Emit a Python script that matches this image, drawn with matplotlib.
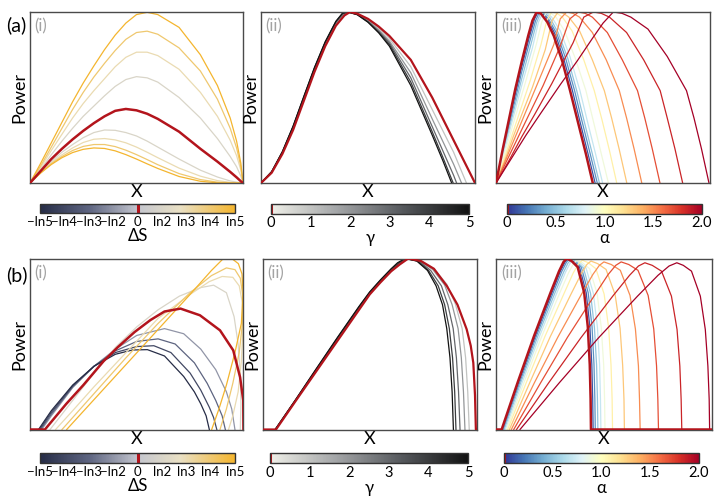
import matplotlib
matplotlib.use('Agg')
import matplotlib.pyplot as plt
from matplotlib.colors import LinearSegmentedColormap, Normalize
from matplotlib.cm import ScalarMappable

plt.rcParams['font.family'] = ['Lato', 'DejaVu Sans']

RED = '#b3141c'
FRAME = '#4a4a4a'

# ---------------- (a)(i): power vs X for several entropy changes ----------------
a1_x = [0, 0.05, 0.1, 0.15, 0.2, 0.25, 0.3, 0.35, 0.4, 0.45, 0.5, 0.55, 0.6, 0.7, 0.8, 0.88, 0.94, 0.97, 0.99, 1.0]
a1_red = [0, 0.07, 0.14, 0.2, 0.255, 0.305, 0.35, 0.39, 0.422, 0.433, 0.425, 0.405, 0.375, 0.30, 0.20, 0.125, 0.065, 0.033, 0.01, 0]
a1_ds = [1, 2, 3, 4, -1, -2, -3, -4]          # index of ln2..ln5 (sign = sign of dS)
a1_y = [
    [0, 0.08, 0.165, 0.245, 0.32, 0.39, 0.45, 0.51, 0.565, 0.605, 0.622, 0.615, 0.59, 0.50, 0.38, 0.26, 0.155, 0.095, 0.04, 0],
    [0, 0.09, 0.19, 0.285, 0.38, 0.465, 0.54, 0.61, 0.68, 0.735, 0.765, 0.765, 0.745, 0.665, 0.53, 0.39, 0.25, 0.16, 0.075, 0],
    [0, 0.10, 0.21, 0.32, 0.43, 0.53, 0.62, 0.70, 0.775, 0.84, 0.88, 0.888, 0.87, 0.79, 0.655, 0.49, 0.32, 0.205, 0.095, 0],
    [0, 0.115, 0.235, 0.355, 0.475, 0.585, 0.685, 0.78, 0.865, 0.935, 0.985, 0.998, 0.985, 0.91, 0.75, 0.57, 0.38, 0.245, 0.115, 0],
    [0, 0.065, 0.125, 0.18, 0.225, 0.265, 0.295, 0.31, 0.308, 0.295, 0.275, 0.245, 0.21, 0.14, 0.075, 0.035, 0.012, 0.005, 0.002, 0],
    [0, 0.062, 0.118, 0.165, 0.205, 0.237, 0.256, 0.26, 0.252, 0.235, 0.21, 0.18, 0.148, 0.087, 0.04, 0.014, 0.004, 0.002, 0.002, 0],
    [0, 0.06, 0.113, 0.155, 0.19, 0.214, 0.225, 0.225, 0.213, 0.192, 0.166, 0.137, 0.107, 0.055, 0.02, 0.005, 0.001, 0, 0.001, 0],
    [0, 0.058, 0.108, 0.148, 0.178, 0.197, 0.205, 0.202, 0.188, 0.166, 0.14, 0.112, 0.085, 0.038, 0.01, 0.001, 0, 0, 0, 0],
]

# ---------------- (a)(ii): gamma dependence ----------------
a2_red_x = [0, 0.05, 0.1, 0.15, 0.2, 0.25, 0.3, 0.35, 0.39, 0.416, 0.45, 0.5, 0.55, 0.6, 0.7, 0.8, 0.9, 1.0]
a2_red_y = [0, 0.06, 0.17, 0.31, 0.48, 0.65, 0.80, 0.92, 0.98, 1.0, 0.99, 0.96, 0.915, 0.86, 0.72, 0.50, 0.25, 0]
a2_gamma = [1, 2, 3, 4, 5]
a2_x = [
    [0, 0.05, 0.1, 0.15, 0.2, 0.25, 0.3, 0.35, 0.385, 0.41, 0.45, 0.5, 0.55, 0.6, 0.7, 0.8, 0.9, 0.96],
    [0, 0.05, 0.1, 0.15, 0.2, 0.25, 0.3, 0.35, 0.385, 0.41, 0.45, 0.5, 0.55, 0.6, 0.7, 0.8, 0.9, 0.937],
    [0, 0.05, 0.1, 0.15, 0.2, 0.25, 0.3, 0.35, 0.385, 0.41, 0.45, 0.5, 0.55, 0.6, 0.7, 0.8, 0.9, 0.914],
    [0, 0.05, 0.1, 0.15, 0.2, 0.25, 0.3, 0.35, 0.38, 0.405, 0.45, 0.5, 0.55, 0.6, 0.7, 0.8, 0.85, 0.898],
    [0, 0.05, 0.1, 0.15, 0.2, 0.25, 0.3, 0.35, 0.38, 0.405, 0.45, 0.5, 0.55, 0.6, 0.7, 0.8, 0.85, 0.891],
]
a2_y = [
    [0, 0.062, 0.175, 0.32, 0.49, 0.66, 0.81, 0.93, 0.985, 1.0, 0.99, 0.955, 0.905, 0.845, 0.68, 0.43, 0.18, 0],
    [0, 0.064, 0.178, 0.325, 0.495, 0.665, 0.815, 0.935, 0.987, 1.0, 0.988, 0.95, 0.895, 0.83, 0.645, 0.375, 0.11, 0],
    [0, 0.065, 0.18, 0.328, 0.5, 0.67, 0.82, 0.94, 0.99, 1.0, 0.986, 0.945, 0.888, 0.82, 0.615, 0.33, 0.045, 0],
    [0, 0.066, 0.182, 0.33, 0.503, 0.673, 0.823, 0.943, 0.99, 1.0, 0.985, 0.942, 0.882, 0.81, 0.59, 0.30, 0.15, 0],
    [0, 0.067, 0.184, 0.333, 0.506, 0.676, 0.826, 0.946, 0.992, 1.0, 0.984, 0.94, 0.878, 0.80, 0.57, 0.28, 0.13, 0],
]

# ---------------- (a)(iii): alpha dependence ----------------
a3_red_x = [0, 0.03, 0.06, 0.09, 0.12, 0.15, 0.17, 0.19, 0.21, 0.24, 0.27, 0.31, 0.346, 0.38, 0.42, 0.452]
a3_red_y = [0, 0.19, 0.37, 0.55, 0.71, 0.86, 0.95, 1.0, 0.99, 0.94, 0.86, 0.71, 0.54, 0.37, 0.17, 0]
a3_alpha = [0.1, 0.3, 0.5, 0.7, 0.9, 1.1, 1.3, 1.5, 1.7, 1.85, 2.0]
a3_x = [
    [0, 0.03, 0.06, 0.09, 0.12, 0.155, 0.18, 0.197, 0.218, 0.24, 0.28, 0.32, 0.357, 0.39, 0.43, 0.463],
    [0, 0.03, 0.06, 0.09, 0.12, 0.16, 0.185, 0.203, 0.224, 0.245, 0.285, 0.325, 0.367, 0.40, 0.44, 0.473],
    [0, 0.03, 0.06, 0.09, 0.12, 0.165, 0.19, 0.21, 0.23, 0.25, 0.29, 0.335, 0.377, 0.41, 0.45, 0.483],
    [0, 0.03, 0.06, 0.09, 0.12, 0.17, 0.198, 0.22, 0.24, 0.26, 0.30, 0.345, 0.392, 0.425, 0.465, 0.498],
    [0, 0.03, 0.06, 0.1, 0.14, 0.19, 0.213, 0.235, 0.257, 0.28, 0.32, 0.37, 0.42, 0.455, 0.49, 0.525],
    [0, 0.04, 0.08, 0.12, 0.16, 0.21, 0.237, 0.26, 0.285, 0.31, 0.355, 0.41, 0.459, 0.495, 0.53, 0.564],
    [0, 0.04, 0.08, 0.12, 0.17, 0.23, 0.262, 0.29, 0.315, 0.34, 0.39, 0.45, 0.506, 0.54, 0.575, 0.611],
    [0, 0.05, 0.1, 0.15, 0.2, 0.27, 0.30, 0.33, 0.36, 0.39, 0.45, 0.515, 0.576, 0.61, 0.645, 0.681],
    [0, 0.05, 0.1, 0.15, 0.22, 0.3, 0.345, 0.385, 0.417, 0.45, 0.52, 0.59, 0.661, 0.695, 0.73, 0.766],
    [0, 0.06, 0.12, 0.18, 0.26, 0.36, 0.41, 0.455, 0.492, 0.53, 0.61, 0.69, 0.767, 0.80, 0.836, 0.872],
    [0, 0.07, 0.14, 0.21, 0.3, 0.38, 0.45, 0.5, 0.548, 0.589, 0.63, 0.71, 0.80, 0.89, 0.925, 0.96, 0.995],
]
a3_y = [
    [0, 0.18, 0.35, 0.52, 0.68, 0.85, 0.96, 1.0, 0.99, 0.96, 0.86, 0.71, 0.54, 0.37, 0.17, 0],
    [0, 0.17, 0.33, 0.49, 0.65, 0.84, 0.95, 1.0, 0.99, 0.96, 0.87, 0.73, 0.54, 0.37, 0.17, 0],
    [0, 0.16, 0.31, 0.46, 0.61, 0.82, 0.94, 1.0, 0.992, 0.97, 0.88, 0.73, 0.54, 0.37, 0.17, 0],
    [0, 0.15, 0.29, 0.43, 0.57, 0.79, 0.94, 1.0, 0.992, 0.97, 0.89, 0.74, 0.54, 0.37, 0.17, 0],
    [0, 0.13, 0.26, 0.43, 0.60, 0.82, 0.94, 1.0, 0.992, 0.97, 0.89, 0.73, 0.54, 0.36, 0.18, 0],
    [0, 0.15, 0.30, 0.45, 0.60, 0.81, 0.95, 1.0, 0.992, 0.97, 0.89, 0.72, 0.54, 0.37, 0.19, 0],
    [0, 0.13, 0.27, 0.40, 0.56, 0.78, 0.95, 1.0, 0.992, 0.97, 0.89, 0.72, 0.54, 0.38, 0.2, 0],
    [0, 0.15, 0.30, 0.45, 0.60, 0.81, 0.96, 1.0, 0.992, 0.97, 0.88, 0.72, 0.54, 0.38, 0.2, 0],
    [0, 0.13, 0.26, 0.39, 0.57, 0.80, 0.96, 1.0, 0.992, 0.97, 0.88, 0.72, 0.54, 0.38, 0.2, 0],
    [0, 0.13, 0.27, 0.40, 0.58, 0.82, 0.97, 1.0, 0.992, 0.97, 0.88, 0.72, 0.54, 0.38, 0.2, 0],
    [0, 0.14, 0.28, 0.41, 0.575, 0.715, 0.845, 0.935, 1.0, 0.992, 0.97, 0.9, 0.74, 0.54, 0.38, 0.2, 0],
]

# ---------------- (b)(i) ----------------
b1_red_x = [0, 0.07, 0.12, 0.17, 0.25, 0.345, 0.41, 0.49, 0.564, 0.63, 0.705, 0.796, 0.89, 0.952, 0.984, 0.999, 1.0]
b1_red_y = [0, 0, 0.075, 0.15, 0.26, 0.40, 0.48, 0.57, 0.64, 0.69, 0.707, 0.668, 0.58, 0.463, 0.306, 0.17, 0]
b1_ds = [-1, -2, -3, -4, 1, 2, 3, 4]
b1_x = [
    [0.055, 0.1, 0.2, 0.3, 0.4, 0.5, 0.63, 0.72, 0.8, 0.87, 0.92, 0.945, 0.96],
    [0.05, 0.1, 0.2, 0.3, 0.4, 0.5, 0.6, 0.68, 0.77, 0.83, 0.87, 0.9, 0.915],
    [0.045, 0.1, 0.2, 0.3, 0.4, 0.5, 0.58, 0.66, 0.75, 0.8, 0.84, 0.86, 0.875],
    [0.04, 0.1, 0.2, 0.3, 0.4, 0.48, 0.55, 0.63, 0.72, 0.77, 0.80, 0.825, 0.84],
    [0.094, 0.2, 0.3, 0.4, 0.5, 0.6, 0.7, 0.8, 0.86, 0.92, 0.956, 0.975, 0.985, 0.988, 0.985],
    [0.12, 0.2, 0.3, 0.45, 0.6, 0.75, 0.84, 0.9, 0.95, 0.98, 0.995, 0.997, 0.99, 0.975, 0.95, 0.93],
    [0.15, 0.3, 0.45, 0.6, 0.75, 0.85, 0.92, 0.96, 0.985, 0.997, 0.995, 0.98, 0.95, 0.92, 0.89],
    [0.172, 0.3, 0.45, 0.6, 0.75, 0.85, 0.906, 0.95, 0.976, 0.993, 0.998, 0.99, 0.96, 0.92, 0.885, 0.851],
]
b1_y = [
    [0, 0.08, 0.245, 0.37, 0.47, 0.55, 0.59, 0.56, 0.47, 0.35, 0.22, 0.12, 0],
    [0, 0.09, 0.25, 0.37, 0.46, 0.515, 0.53, 0.5, 0.39, 0.27, 0.17, 0.08, 0],
    [0, 0.10, 0.255, 0.37, 0.45, 0.485, 0.49, 0.45, 0.33, 0.23, 0.13, 0.07, 0],
    [0, 0.11, 0.26, 0.37, 0.44, 0.465, 0.467, 0.43, 0.31, 0.22, 0.15, 0.08, 0],
    [0, 0.17, 0.33, 0.48, 0.6, 0.7, 0.78, 0.83, 0.844, 0.8, 0.66, 0.5, 0.32, 0.15, 0],
    [0, 0.11, 0.25, 0.45, 0.65, 0.79, 0.865, 0.895, 0.89, 0.84, 0.74, 0.58, 0.4, 0.22, 0.08, 0],
    [0, 0.21, 0.42, 0.62, 0.8, 0.9, 0.945, 0.935, 0.885, 0.78, 0.62, 0.45, 0.27, 0.12, 0],
    [0, 0.175, 0.38, 0.585, 0.79, 0.93, 1.0, 0.995, 0.97, 0.91, 0.80, 0.62, 0.45, 0.26, 0.12, 0],
]

# ---------------- (b)(ii) ----------------
b2_red_x = [0, 0.062, 0.15, 0.25, 0.35, 0.45, 0.5, 0.55, 0.6, 0.64, 0.68, 0.74, 0.8, 0.86, 0.91, 0.953, 0.972, 0.984, 0.992, 0.996, 1.0]
b2_red_y = [0, 0, 0.16, 0.34, 0.52, 0.70, 0.79, 0.86, 0.925, 0.965, 1.0, 0.985, 0.94, 0.84, 0.73, 0.586, 0.49, 0.39, 0.2, 0, 0]
b2_gamma = [1, 2, 3, 4, 5]
b2_x = [
    [0.061, 0.15, 0.25, 0.35, 0.45, 0.5, 0.55, 0.6, 0.64, 0.676, 0.74, 0.8, 0.86, 0.9, 0.932, 0.948, 0.958, 0.965],
    [0.06, 0.15, 0.25, 0.35, 0.45, 0.5, 0.55, 0.6, 0.64, 0.673, 0.735, 0.795, 0.85, 0.885, 0.913, 0.928, 0.938, 0.945],
    [0.059, 0.15, 0.25, 0.35, 0.45, 0.5, 0.55, 0.6, 0.635, 0.67, 0.73, 0.785, 0.835, 0.865, 0.89, 0.905, 0.915, 0.922],
    [0.058, 0.15, 0.25, 0.35, 0.45, 0.5, 0.55, 0.6, 0.635, 0.667, 0.725, 0.775, 0.82, 0.85, 0.872, 0.887, 0.897, 0.903],
    [0.058, 0.15, 0.25, 0.35, 0.45, 0.5, 0.55, 0.6, 0.63, 0.665, 0.72, 0.77, 0.81, 0.84, 0.86, 0.875, 0.885, 0.891],
]
b2_y = [
    [0, 0.162, 0.344, 0.526, 0.706, 0.792, 0.863, 0.928, 0.966, 1.0, 0.985, 0.94, 0.85, 0.735, 0.59, 0.42, 0.22, 0],
    [0, 0.163, 0.347, 0.53, 0.709, 0.795, 0.866, 0.93, 0.968, 1.0, 0.985, 0.935, 0.845, 0.73, 0.59, 0.42, 0.22, 0],
    [0, 0.165, 0.35, 0.533, 0.713, 0.798, 0.868, 0.933, 0.97, 1.0, 0.985, 0.93, 0.84, 0.73, 0.59, 0.42, 0.22, 0],
    [0, 0.167, 0.353, 0.537, 0.717, 0.802, 0.872, 0.937, 0.973, 1.0, 0.985, 0.93, 0.84, 0.73, 0.59, 0.42, 0.22, 0],
    [0, 0.168, 0.355, 0.54, 0.72, 0.805, 0.875, 0.94, 0.975, 1.0, 0.985, 0.93, 0.84, 0.73, 0.59, 0.42, 0.22, 0],
]

# ---------------- (b)(iii) ----------------
b3_red_x = [0, 0.026, 0.1015, 0.177, 0.2525, 0.2918, 0.3129, 0.328, 0.3504, 0.3784, 0.4086, 0.4254, 0.4344, 0.4383, 0.44, 1.0]
b3_red_y = [0, 0, 0.28, 0.55, 0.8, 0.925, 0.98, 1.0, 0.985, 0.95, 0.8, 0.6, 0.38, 0.18, 0, 0]
b3_alpha = [0.1, 0.3, 0.5, 0.7, 0.9, 1.1, 1.3, 1.5, 1.7, 1.85, 2.0]
b3_x = [
    [0.030, 0.106, 0.183, 0.259, 0.298, 0.320, 0.335, 0.358, 0.387, 0.418, 0.435, 0.444, 0.448, 0.450],
    [0.034, 0.111, 0.188, 0.265, 0.305, 0.327, 0.342, 0.366, 0.395, 0.427, 0.445, 0.454, 0.458, 0.460],
    [0.038, 0.116, 0.194, 0.272, 0.313, 0.334, 0.350, 0.374, 0.405, 0.438, 0.456, 0.466, 0.470, 0.472],
    [0.043, 0.122, 0.202, 0.281, 0.322, 0.344, 0.360, 0.385, 0.417, 0.451, 0.470, 0.480, 0.484, 0.486],
    [0.048, 0.130, 0.212, 0.293, 0.336, 0.359, 0.375, 0.401, 0.434, 0.469, 0.488, 0.499, 0.503, 0.505],
    [0.054, 0.141, 0.227, 0.314, 0.358, 0.383, 0.400, 0.428, 0.463, 0.501, 0.522, 0.533, 0.538, 0.540],
    [0.062, 0.157, 0.251, 0.346, 0.395, 0.421, 0.440, 0.471, 0.510, 0.552, 0.575, 0.587, 0.593, 0.595],
    [0.071, 0.178, 0.286, 0.393, 0.449, 0.479, 0.500, 0.534, 0.576, 0.621, 0.646, 0.660, 0.665, 0.668],
    [0.082, 0.207, 0.331, 0.456, 0.520, 0.555, 0.580, 0.615, 0.658, 0.705, 0.731, 0.744, 0.750, 0.753],
    [0.095, 0.244, 0.393, 0.541, 0.619, 0.660, 0.690, 0.724, 0.767, 0.813, 0.839, 0.852, 0.858, 0.861],
    [0.111, 0.293, 0.475, 0.656, 0.751, 0.802, 0.838, 0.868, 0.906, 0.947, 0.970, 0.982, 0.988, 0.990],
]
b3_y = [
    [0, 0.28, 0.55, 0.8, 0.925, 0.98, 1.0, 0.985, 0.95, 0.8, 0.6, 0.38, 0.18, 0],
    [0, 0.28, 0.55, 0.8, 0.925, 0.98, 1.0, 0.985, 0.95, 0.8, 0.6, 0.38, 0.18, 0],
    [0, 0.279, 0.547, 0.796, 0.920, 0.975, 0.995, 0.980, 0.945, 0.796, 0.597, 0.378, 0.179, 0],
    [0, 0.279, 0.547, 0.796, 0.920, 0.975, 0.995, 0.980, 0.945, 0.796, 0.597, 0.378, 0.179, 0],
    [0, 0.277, 0.545, 0.792, 0.916, 0.970, 0.99, 0.975, 0.94, 0.792, 0.594, 0.376, 0.178, 0],
    [0, 0.277, 0.545, 0.792, 0.916, 0.970, 0.99, 0.975, 0.94, 0.792, 0.594, 0.376, 0.178, 0],
    [0, 0.276, 0.542, 0.788, 0.911, 0.965, 0.985, 0.970, 0.936, 0.788, 0.591, 0.374, 0.177, 0],
    [0, 0.274, 0.539, 0.784, 0.907, 0.960, 0.98, 0.965, 0.931, 0.784, 0.588, 0.372, 0.176, 0],
    [0, 0.274, 0.539, 0.784, 0.907, 0.960, 0.98, 0.965, 0.931, 0.784, 0.588, 0.372, 0.176, 0],
    [0, 0.273, 0.536, 0.78, 0.902, 0.956, 0.975, 0.960, 0.926, 0.78, 0.585, 0.371, 0.176, 0],
    [0, 0.273, 0.536, 0.78, 0.902, 0.956, 0.975, 0.960, 0.926, 0.78, 0.585, 0.371, 0.176, 0],
]

ds_ticks = [-4, -3, -2, -1, 0, 1, 2, 3, 4]
ds_labels = ['\u2212ln5', '\u2212ln4', '\u2212ln3', '\u2212ln2', '0', 'ln2', 'ln3', 'ln4', 'ln5']
gamma_ticks = [0, 1, 2, 3, 4, 5]
alpha_ticks = [0, 0.5, 1.0, 1.5, 2.0]
alpha_labels = ['0', '0.5', '1.0', '1.5', '2.0']

# colour maps
ds_cmap = LinearSegmentedColormap.from_list(
    'ds', [(0, '#262c46'), (0.25, '#5d6480'), (0.5, '#c3c5ce'), (0.72, '#e9e0c4'), (1, '#f4b52e')])
gamma_cmap = LinearSegmentedColormap.from_list('gm', ['#efefe8', '#a3a5a7', '#55585c', '#121212'])
alpha_cmap = plt.get_cmap('RdYlBu_r')
ds_norm = Normalize(-4, 4)
gamma_norm = Normalize(0, 5)
alpha_norm = Normalize(0, 2)

fig = plt.figure(figsize=(7.21, 5.0), dpi=100)


def panel(rect, tag):
    ax = fig.add_axes(rect)
    ax.set_xlim(0, 1)
    ax.set_ylim(0, 1)
    ax.set_xticks([])
    ax.set_yticks([])
    for s in ax.spines.values():
        s.set_color(FRAME)
        s.set_linewidth(1.0)
    ax.set_xlabel('X', fontsize=13, labelpad=1)
    ax.set_ylabel('Power', fontsize=13, labelpad=2)
    ax.text(0.022, 0.915, tag, transform=ax.transAxes, color='#a3a3a3', fontsize=12, va='center')
    return ax


def colorbar(rect, cmap, norm, ticks, labels, name, size):
    cax = fig.add_axes(rect)
    cb = fig.colorbar(ScalarMappable(norm=norm, cmap=cmap), cax=cax, orientation='horizontal')
    cb.set_ticks(ticks)
    cb.set_ticklabels(labels)
    cax.tick_params(length=0, labelsize=size, pad=2)
    cb.outline.set_edgecolor('#333333')
    cb.outline.set_linewidth(1.0)
    cb.set_label(name, fontsize=12, labelpad=0)
    cax.axvline(0, color=RED, lw=2.2)
    return cb


top, bot, h = 0.634, 0.141, 0.342
# (a)(i)
ax = panel([0.0416, top, 0.2954, h], '(i)')
for k, y in zip(a1_ds, a1_y):
    ax.plot(a1_x, y, color=ds_cmap(ds_norm(abs(k))), lw=0.9)
ax.plot(a1_x, a1_red, color=RED, lw=1.8, zorder=3)

# (a)(ii)
ax = panel([0.362, top, 0.2968, h], '(ii)')
for g, x, y in zip(a2_gamma, a2_x, a2_y):
    ax.plot(x, y, color=gamma_cmap(gamma_norm(g)), lw=0.9)
ax.plot(a2_red_x, a2_red_y, color=RED, lw=1.6, zorder=3)

# (a)(iii)
ax = panel([0.688, top, 0.2968, h], '(iii)')
for a, x, y in zip(a3_alpha, a3_x, a3_y):
    ax.plot(x, y, color=alpha_cmap(alpha_norm(a)), lw=0.9)
ax.plot(a3_red_x, a3_red_y, color=RED, lw=1.8, zorder=3)

# (b)(i)
ax = panel([0.0416, bot, 0.2961, h], '(i)')
for k, x, y in zip(b1_ds, b1_x, b1_y):
    ax.plot(x, y, color=ds_cmap(ds_norm(k)), lw=0.9)
ax.plot(b1_red_x, b1_red_y, color=RED, lw=1.8, zorder=3)

# (b)(ii)
ax = panel([0.3644, bot, 0.2968, h], '(ii)')
for g, x, y in zip(b2_gamma, b2_x, b2_y):
    ax.plot(x, y, color=gamma_cmap(gamma_norm(g)), lw=0.9)
ax.plot(b2_red_x, b2_red_y, color=RED, lw=1.6, zorder=3)

# (b)(iii)
ax = panel([0.688, bot, 0.2992, h], '(iii)')
for a, x, y in zip(b3_alpha, b3_x, b3_y):
    ax.plot(x, y, color=alpha_cmap(alpha_norm(a)), lw=0.9)
ax.plot(b3_red_x, b3_red_y, color=RED, lw=1.8, zorder=3)

# colour bars
gamma_labels = [str(t) for t in gamma_ticks]
colorbar([0.0555, 0.574, 0.2705, 0.019], ds_cmap, ds_norm, ds_ticks, ds_labels, '\u0394S', 9.5)
colorbar([0.3759, 0.573, 0.2746, 0.02], gamma_cmap, gamma_norm, gamma_ticks, gamma_labels, '\u03b3', 10.5)
colorbar([0.7032, 0.573, 0.2705, 0.02], alpha_cmap, alpha_norm, alpha_ticks, alpha_labels, '\u03b1', 10.5)
colorbar([0.0555, 0.074, 0.2705, 0.02], ds_cmap, ds_norm, ds_ticks, ds_labels, '\u0394S', 9.5)
colorbar([0.3745, 0.074, 0.2746, 0.02], gamma_cmap, gamma_norm, gamma_ticks, gamma_labels, '\u03b3', 10.5)
colorbar([0.699, 0.074, 0.2705, 0.02], alpha_cmap, alpha_norm, alpha_ticks, alpha_labels, '\u03b1', 10.5)

fig.text(0.008, 0.95, '(a)', fontsize=14, va='center')
fig.text(0.008, 0.45, '(b)', fontsize=14, va='center')

fig.savefig('out.png', dpi=100)
